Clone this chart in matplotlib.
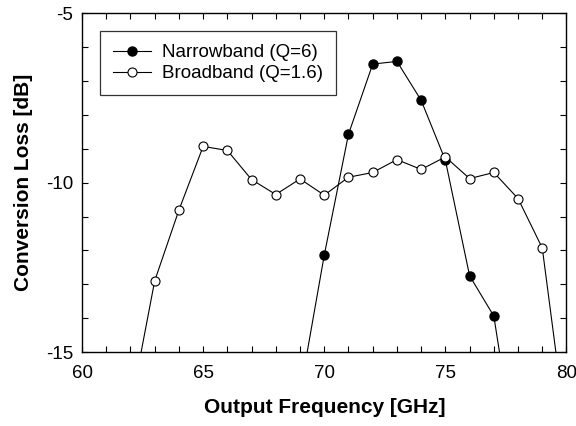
import matplotlib
matplotlib.use("Agg")
import matplotlib.pyplot as plt
from matplotlib.ticker import MultipleLocator

plt.rcParams['font.family'] = ['Liberation Sans', 'DejaVu Sans']
plt.rcParams['axes.unicode_minus'] = False

narrow_freq = [69, 70, 71, 72, 73, 74, 75, 76, 77, 78]
narrow_loss = [-16.2, -12.14, -8.57, -6.50, -6.42, -7.57, -9.34, -12.75, -13.94, -18.5]

broad_freq = [62, 63, 64, 65, 66, 67, 68, 69, 70, 71, 72, 73, 74, 75, 76, 77, 78, 79, 80]
broad_loss = [-16.65, -12.9, -10.81, -8.93, -9.05, -9.91, -10.35, -9.89, -10.37, -9.84,
              -9.70, -9.32, -9.61, -9.24, -9.88, -9.70, -10.47, -11.93, -17.4]

x_ticks = [60, 65, 70, 75, 80]
y_ticks = [-15, -10, -5]

fig = plt.figure(figsize=(5.76, 4.26), dpi=100)
ax = fig.add_axes([0.1424, 0.1737, 0.8411, 0.7951])

ax.plot(narrow_freq, narrow_loss, '-o', color='black', lw=0.8,
        markersize=6.5, markerfacecolor='black', markeredgecolor='black',
        label='Narrowband (Q=6)', zorder=3)
ax.plot(broad_freq, broad_loss, '-o', color='black', lw=0.8,
        markersize=6.5, markerfacecolor='white', markeredgecolor='black',
        markeredgewidth=0.8, label='Broadband (Q=1.6)', zorder=4)

ax.set_xlim(60, 80)
ax.set_ylim(-15, -5)
ax.set_xticks(x_ticks)
ax.set_yticks(y_ticks)
ax.xaxis.set_minor_locator(MultipleLocator(1))
ax.yaxis.set_minor_locator(MultipleLocator(1))
ax.tick_params(which='both', direction='in', top=True, right=True,
               labelsize=13.5, width=0.8)
ax.tick_params(which='major', length=4)
ax.tick_params(which='minor', length=4)
ax.tick_params(axis='x', which='major', pad=9)
ax.tick_params(axis='y', which='major', pad=6.5)
for s in ax.spines.values():
    s.set_linewidth(1.0)

ax.set_xlabel('Output Frequency [GHz]', fontsize=15, fontweight='bold', labelpad=12)
ax.set_ylabel('Conversion Loss [dB]', fontsize=15, fontweight='bold', labelpad=9)

leg = ax.legend(loc='upper left', bbox_to_anchor=(0.037, 0.947), fontsize=13.5,
                frameon=True, fancybox=False, edgecolor='black',
                handlelength=2.0, borderpad=0.7, labelspacing=0.2,
                handletextpad=0.62, borderaxespad=0)
leg.get_frame().set_linewidth(0.9)

fig.savefig('out.png', dpi=100)
